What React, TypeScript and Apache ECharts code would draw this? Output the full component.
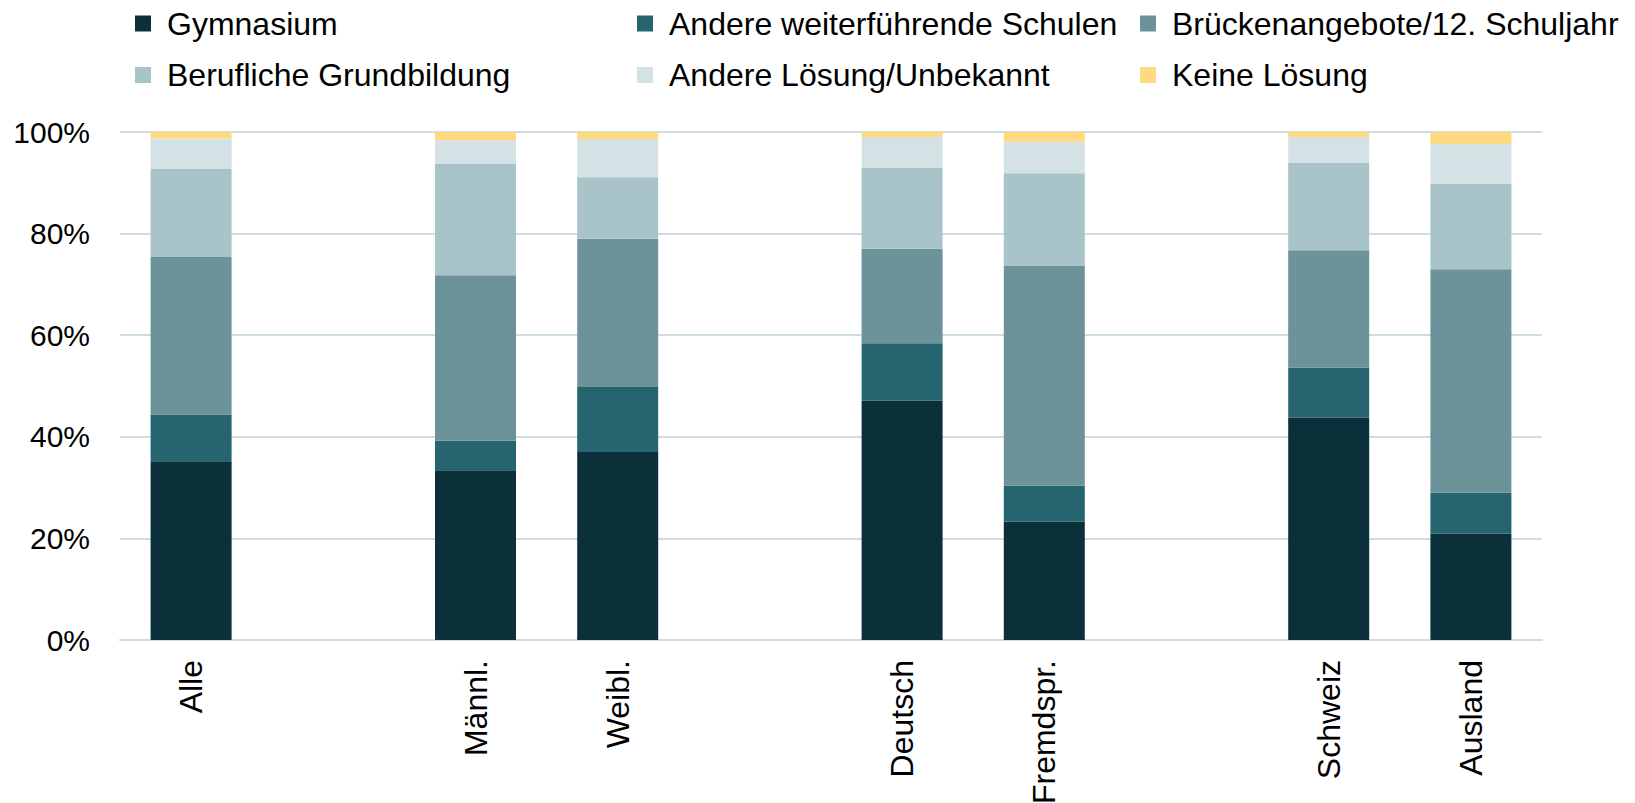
import React, { useEffect, useRef } from "react";
import * as echarts from "echarts";

const categories = ["Alle", " ", "Männl.", "Weibl.", "  ", "Deutsch", "Fremdspr.", "   ", "Schweiz", "Ausland"];
const seriesNames = [
  "Gymnasium",
  "Andere weiterführende Schulen",
  "Brückenangebote/12. Schuljahr",
  "Berufliche Grundbildung",
  "Andere Lösung/Unbekannt",
  "Keine Lösung",
];
const gymnasium = [35.2, null, 33.4, 37.0, null, 47.1, 23.3, null, 43.8, 20.9];
const andereWeiterf = [9.2, null, 5.8, 12.8, null, 11.3, 7.1, null, 9.8, 8.1];
const bruecken = [31.1, null, 32.6, 29.2, null, 18.6, 43.3, null, 23.1, 44.0];
const beruflich = [17.2, null, 21.9, 12.1, null, 15.9, 18.2, null, 17.2, 16.8];
const andereLoesung = [6.0, null, 4.7, 7.5, null, 6.1, 6.2, null, 5.1, 7.8];
const keineLoesung = [1.3, null, 1.6, 1.4, null, 1.0, 1.9, null, 1.0, 2.4];
const yTicks = [0, 20, 40, 60, 80, 100];

const seriesData = [gymnasium, andereWeiterf, bruecken, beruflich, andereLoesung, keineLoesung];
const colors = ["#0b303a", "#266470", "#6b9399", "#a8c4c9", "#d4e2e5", "#ffd97f"];
const legendPos = [
  { left: 135, top: 5.5 },
  { left: 637, top: 5.5 },
  { left: 1140, top: 5.5 },
  { left: 135, top: 57 },
  { left: 637, top: 57 },
  { left: 1140, top: 57 },
];

const FONT = "'Liberation Sans', Arial, sans-serif";

export default function App() {
  const ref = useRef<HTMLDivElement>(null);
  useEffect(() => {
    document.body.style.margin = "0";
    if (!ref.current) return;
    const chart = echarts.init(ref.current, null, { renderer: "svg" });
    chart.setOption({
      animation: false,
      color: colors,
      textStyle: { fontFamily: FONT },
      legend: seriesNames.map((n, i) => ({
        data: [n],
        left: legendPos[i].left,
        top: legendPos[i].top,
        padding: 0,
        icon: "rect",
        itemWidth: 16,
        itemHeight: 16,
        selectedMode: false,
        textStyle: {
          fontSize: 32,
          color: "#000",
          fontFamily: FONT,
          lineHeight: 36,
          padding: [0, 0, 0, 11],
        },
      })),
      grid: {
        left: 120,
        right: 93,
        top: 132,
        bottom: 163,
        containLabel: false,
        outerBoundsMode: "none",
      },
      xAxis: {
        type: "category",
        data: categories,
        axisLine: { show: true, lineStyle: { color: "#cddde2", width: 2 } },
        axisTick: { show: false },
        axisLabel: {
          interval: 0,
          rotate: 90,
          margin: 20,
          fontSize: 32,
          color: "#000",
          fontFamily: FONT,
        },
      },
      yAxis: {
        type: "value",
        min: yTicks[0],
        max: yTicks[yTicks.length - 1],
        interval: 20,
        axisLine: { show: false },
        axisTick: { show: false },
        splitLine: { lineStyle: { color: "#cddde2", width: 2 } },
        axisLabel: {
          formatter: "{value}%",
          margin: 30,
          fontSize: 30,
          color: "#000",
          fontFamily: FONT,
        },
      },
      series: seriesNames.map((n, i) => ({
        name: n,
        type: "bar",
        stack: "total",
        data: seriesData[i],
        barWidth: 81,
        itemStyle: { color: colors[i] },
      })),
    });
    return () => chart.dispose();
  }, []);
  return <div ref={ref} style={{ width: 1635, height: 803 }} />;
}
